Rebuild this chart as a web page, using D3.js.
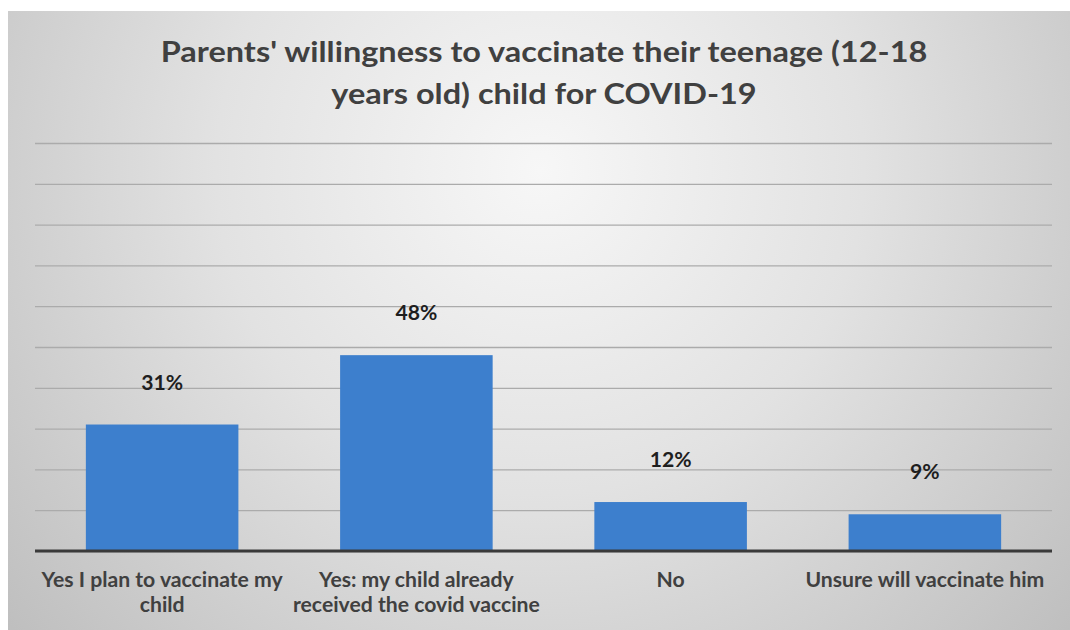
<!DOCTYPE html>
<html>
<head>
<meta charset="utf-8">
<script src="https://cdn.jsdelivr.net/npm/d3@7"></script>
<style>
  body { margin: 0; background: #fff; }
  text { font-family: Lato, "Open Sans", sans-serif; font-weight: bold; }
</style>
</head>
<body>
<div id="chart"></div>
<script>
// Data
var categories = ["Yes I plan to vaccinate my child", "Yes: my child already received the covid vaccine", "No", "Unsure will vaccinate him"];
var values = [31, 48, 12, 9];
var yTicks = [0, 10, 20, 30, 40, 50, 60, 70, 80, 90, 100];
var titleLines = ["Parents' willingness to vaccinate their teenage (12-18", "years old) child for COVID-19"];

var W = 1070, H = 630;
var margin = {top: 143, right: 18, bottom: 79, left: 35},
    width = W - margin.left - margin.right,
    height = H - margin.top - margin.bottom;
var stretch = 1.06; // the original font is a bit wider than Lato

var root = d3.select("#chart")
  .append("svg")
    .attr("width", W)
    .attr("height", H);

// background
var defs = root.append("defs");
var grad = defs.append("radialGradient")
    .attr("id", "bg")
    .attr("gradientUnits", "userSpaceOnUse")
    .attr("cx", 540).attr("cy", 170).attr("r", 720);
grad.append("stop").attr("offset", "0").attr("stop-color", "#f7f7f7");
grad.append("stop").attr("offset", "0.45").attr("stop-color", "#e2e2e2");
grad.append("stop").attr("offset", "1").attr("stop-color", "#bdbdbd");

root.append("rect")
    .attr("x", 8).attr("y", 11)
    .attr("width", W - 8).attr("height", H - 11)
    .attr("fill", "url(#bg)");

// title
var title = root.append("g");
titleLines.forEach(function(t, i) {
  title.append("text")
    .attr("transform", "translate(544," + (62 + i * 42) + ") scale(1.12,1)")
    .attr("text-anchor", "middle")
    .attr("font-size", 29)
    .attr("fill", "#404040")
    .text(t);
});

var svg = root.append("g")
    .attr("transform", "translate(" + margin.left + "," + margin.top + ")");

// X axis
var x = d3.scaleBand()
  .range([0, width])
  .domain(categories)
  .paddingInner(0.4)
  .paddingOuter(0.2);

// Y axis
var y = d3.scaleLinear()
  .domain([0, 100])
  .range([height, 0]);

// gridlines
svg.append("g")
  .call(d3.axisLeft(y).tickValues(yTicks).tickSize(-width).tickFormat(""))
  .call(function(g) { g.select(".domain").remove(); })
  .selectAll("line")
    .attr("stroke", "#ababab")
    .attr("stroke-width", 1.3);

// bars
svg.selectAll("mybar")
  .data(values)
  .enter()
  .append("rect")
    .attr("x", function(d, i) { return x(categories[i]); })
    .attr("y", function(d) { return y(d); })
    .attr("width", x.bandwidth())
    .attr("height", function(d) { return height - y(d); })
    .attr("fill", "#3d7fcd");

// baseline
svg.append("line")
    .attr("x1", 0).attr("x2", width)
    .attr("y1", y(0)).attr("y2", y(0))
    .attr("stroke", "#3a3a3a")
    .attr("stroke-width", 3);

// value labels
svg.selectAll("vlabel")
  .data(values)
  .enter()
  .append("text")
    .attr("transform", function(d, i) {
      return "translate(" + (x(categories[i]) + x.bandwidth() / 2) + "," + (y(d) - 35) + ") scale(" + stretch + ",1)";
    })
    .attr("text-anchor", "middle")
    .attr("font-size", 20)
    .attr("fill", "#1e1e1e")
    .text(function(d) { return d + "%"; });

// category labels, wrapped
var probe = root.append("text").attr("font-size", 20).attr("visibility", "hidden");
function measure(s) { probe.text(s); return probe.node().getComputedTextLength() * stretch; }

categories.forEach(function(c, i) {
  var words = c.split(" "), lines = [], line = "";
  words.forEach(function(w) {
    var t = line ? line + " " + w : w;
    if (line && measure(t) > x.step() + 4) { lines.push(line); line = w; }
    else line = t;
  });
  lines.push(line);
  lines.forEach(function(l, j) {
    svg.append("text")
      .attr("transform", "translate(" + (x(c) + x.bandwidth() / 2) + "," + (height + 36 + j * 25) + ") scale(" + stretch + ",1)")
      .attr("text-anchor", "middle")
      .attr("font-size", 20)
      .attr("fill", "#404040")
      .text(l);
  });
});
probe.remove();
</script>
</body>
</html>
